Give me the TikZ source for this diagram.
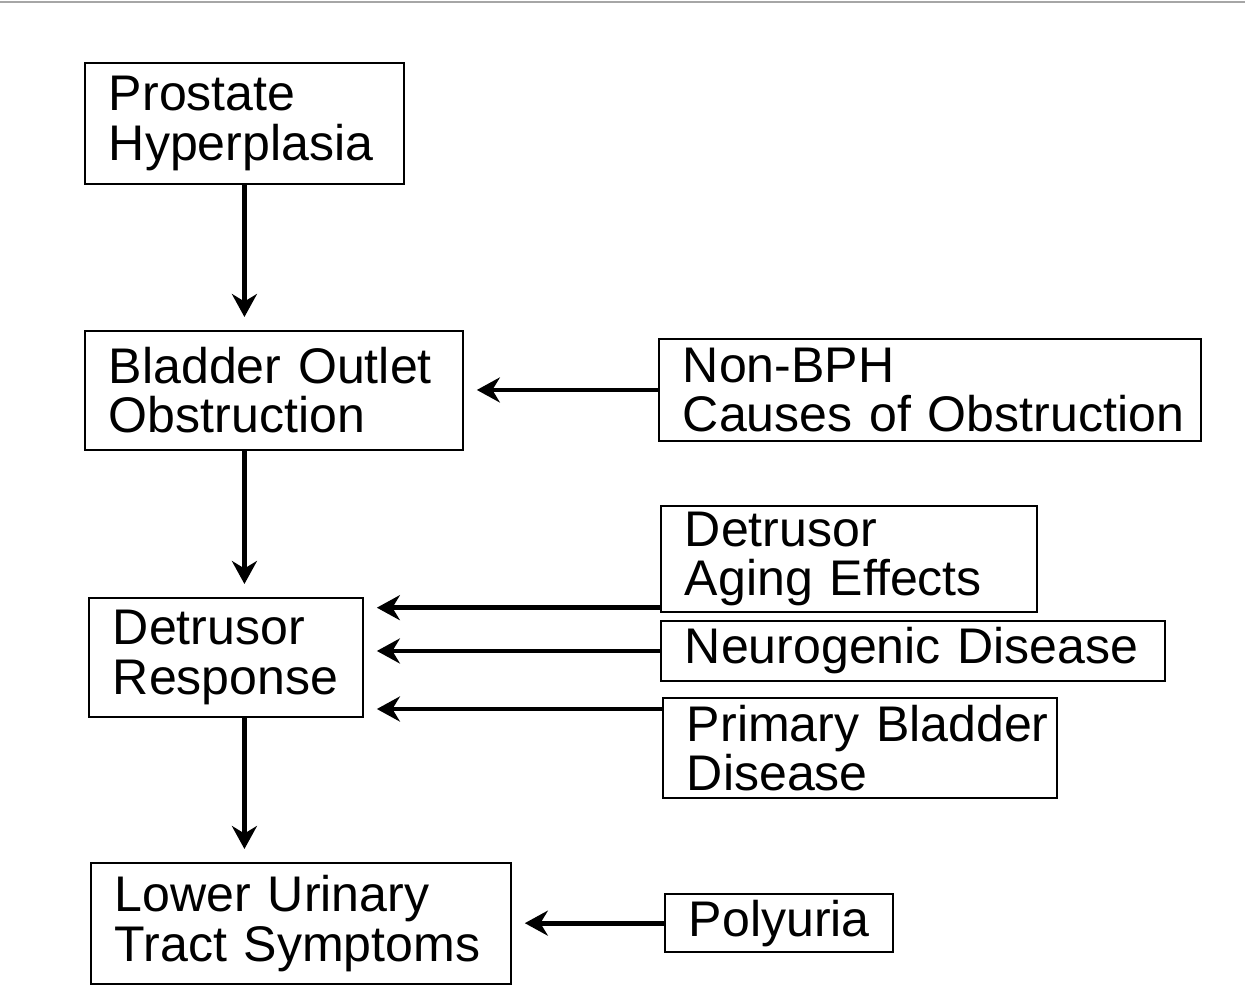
\documentclass[tikz,border=0pt]{standalone}
\usepackage{fontspec}
\setmainfont{Liberation Sans}
\usetikzlibrary{positioning,arrows.meta}

\begin{document}
\begin{tikzpicture}[
  x=0.02cm, y=-0.02cm,
  box/.style={draw, line width=1.1pt, anchor=north west, align=left, inner xsep=0.48cm,
    font=\fontsize{28.5}{28}\selectfont},
  arr/.style={line width=2.8pt, -{Stealth[length=0.46cm, width=0.5cm]}, shorten >=0.26cm}
]
\useasboundingbox (0,0) rectangle (1245,991);
\draw[gray!70, line width=1.5pt] (0,2) -- (1245,2);

\node[box, text width=5.42cm, minimum height=2.42cm] (prostate) at (84,62) {\mbox{Prostate}\\\mbox{Hyperplasia}};
\node[box, text width=6.60cm, minimum height=2.38cm] (outlet) at (84,330) {\mbox{Bladder Outlet}\\\mbox{Obstruction}};
\node[box, text width=9.88cm, minimum height=2.04cm] (nonbph) at (658,338) {\mbox{Non-BPH}\\\mbox{Causes of Obstruction}};
\node[box, text width=4.52cm, minimum height=2.38cm] (detrusor) at (88,597) {\mbox{Detrusor}\\\mbox{Response}};
\node[box, text width=6.56cm, minimum height=1.98cm] (aging) at (660,505) {\mbox{Detrusor}\\\mbox{Aging Effects}};
\node[box, text width=9.12cm, minimum height=1.20cm] (neuro) at (660,620) {\mbox{Neurogenic Disease}};
\node[box, text width=6.92cm, minimum height=2.00cm] (primary) at (662,697) {\mbox{Primary Bladder}\\\mbox{Disease}};
\node[box, text width=7.44cm, minimum height=2.42cm] (luts) at (90,862) {\mbox{Lower Urinary}\\\mbox{Tract Symptoms}};
\node[box, text width=3.60cm, minimum height=1.14cm] (polyuria) at (664,893) {\mbox{Polyuria}};

\draw[arr] (prostate.south) -- (prostate.south |- outlet.north);
\draw[arr] (outlet.south -| prostate.south) -- (detrusor.north -| prostate.south);
\draw[arr] (detrusor.south -| prostate.south) -- (luts.north -| prostate.south);
\draw[arr] (nonbph.west) -- (nonbph.west -| outlet.east);
\draw[arr] ([yshift=0.1cm]aging.south west) -- ([yshift=0.1cm]aging.south west -| detrusor.east);
\draw[arr] (neuro.west) -- (neuro.west -| detrusor.east);
\draw[arr] ([yshift=-0.24cm]primary.north west) -- ([yshift=-0.24cm]primary.north west -| detrusor.east);
\draw[arr] (polyuria.west) -- (polyuria.west -| luts.east);
\end{tikzpicture}
\end{document}
